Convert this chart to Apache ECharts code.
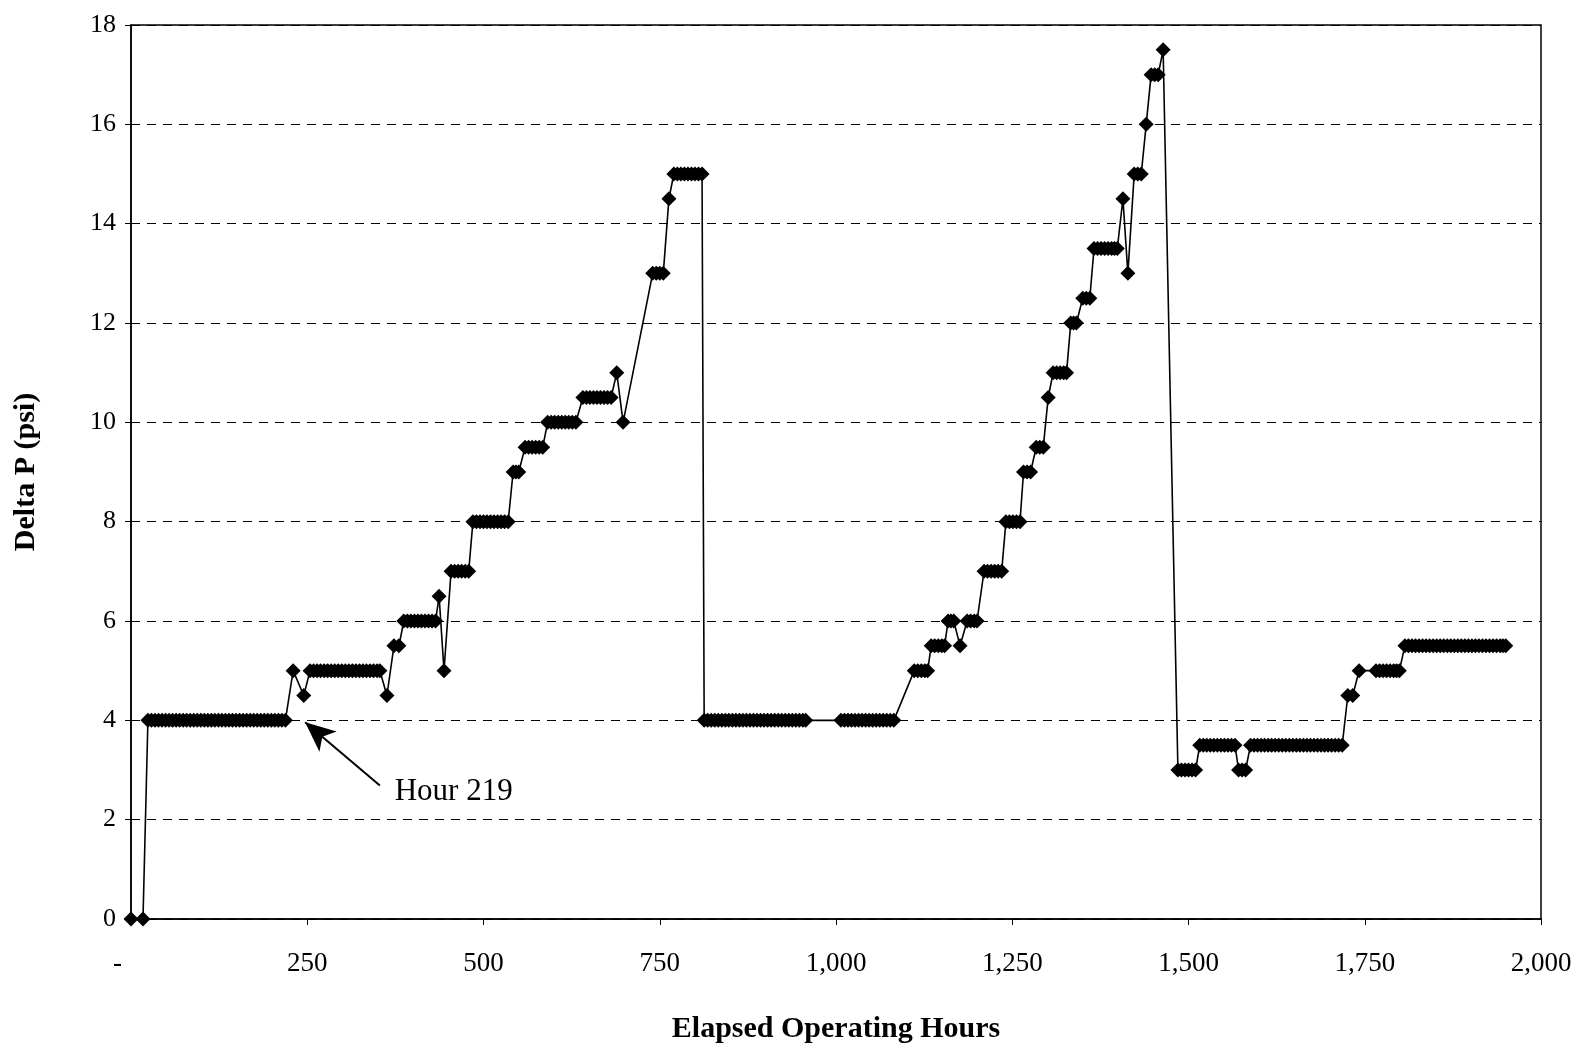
<!DOCTYPE html>
<html>
<head>
<meta charset="utf-8">
<script src="https://cdn.jsdelivr.net/npm/echarts@6/dist/echarts.min.js"></script>
<style>
  html, body { margin: 0; padding: 0; background: #fff; }
  #chart { width: 1578px; height: 1049px; }
</style>
</head>
<body>
<div id="chart"></div>
<script>
// Differential pressure readings: [elapsed operating hours, delta P (psi)]
const readings = [
  [0, 0], [17, 0],
  [24, 4], [29, 4], [34, 4], [39, 4], [44, 4], [49, 4], [54, 4], [59, 4], [64, 4], [69, 4],
  [74, 4], [79, 4], [84, 4], [89, 4], [94, 4], [99, 4], [104, 4], [109, 4], [114, 4], [119, 4],
  [124, 4], [129, 4], [134, 4], [139, 4], [144, 4], [149, 4], [154, 4], [159, 4], [164, 4], [169, 4],
  [174, 4], [179, 4], [184, 4], [189, 4], [194, 4], [199, 4], [204, 4], [209, 4], [214, 4], [219, 4],
  [230, 5], [245, 4.5],
  [254, 5], [259, 5], [264, 5], [269, 5], [274, 5], [279, 5], [284, 5], [289, 5], [294, 5], [299, 5],
  [304, 5], [309, 5], [314, 5], [319, 5], [324, 5], [329, 5], [334, 5], [339, 5], [344, 5], [349, 5], [353, 5],
  [363, 4.5], [373, 5.5], [380, 5.5],
  [387, 6], [392, 6], [397, 6], [402, 6], [407, 6], [412, 6], [417, 6], [422, 6], [427, 6], [432, 6],
  [437, 6.5], [444, 5],
  [454, 7], [459, 7], [464, 7], [469, 7], [474, 7], [479, 7],
  [485, 8], [490, 8], [495, 8], [500, 8], [505, 8], [510, 8], [515, 8], [520, 8], [525, 8], [530, 8], [535, 8],
  [542, 9], [546, 9], [550, 9],
  [559, 9.5], [564, 9.5], [569, 9.5], [574, 9.5], [579, 9.5], [584, 9.5],
  [591, 10], [596, 10], [601, 10], [606, 10], [611, 10], [616, 10], [621, 10], [626, 10], [631, 10],
  [641, 10.5], [646, 10.5], [651, 10.5], [656, 10.5], [661, 10.5], [666, 10.5], [671, 10.5], [676, 10.5], [681, 10.5],
  [689, 11], [698, 10],
  [740, 13], [745, 13], [750, 13], [755, 13],
  [763, 14.5],
  [770, 15], [775, 15], [780, 15], [785, 15], [790, 15], [795, 15], [800, 15], [805, 15], [810, 15],
  [813, 4], [818, 4], [823, 4], [828, 4], [833, 4], [838, 4], [843, 4], [848, 4], [853, 4], [858, 4],
  [863, 4], [868, 4], [873, 4], [878, 4], [883, 4], [888, 4], [893, 4], [898, 4], [903, 4], [908, 4],
  [913, 4], [918, 4], [923, 4], [928, 4], [933, 4], [938, 4], [943, 4], [948, 4], [953, 4], [957, 4],
  [1007, 4], [1012, 4], [1017, 4], [1022, 4], [1027, 4], [1032, 4], [1037, 4], [1042, 4],
  [1047, 4], [1052, 4], [1057, 4], [1062, 4], [1067, 4], [1072, 4], [1077, 4], [1082, 4],
  [1111, 5], [1116, 5], [1121, 5], [1126, 5], [1130, 5],
  [1135, 5.5], [1140, 5.5], [1145, 5.5], [1150, 5.5], [1154, 5.5],
  [1159, 6], [1163, 6], [1167, 6],
  [1176, 5.5],
  [1186, 6], [1191, 6], [1196, 6], [1200, 6],
  [1210, 7], [1215, 7], [1220, 7], [1225, 7], [1230, 7], [1235, 7],
  [1241, 8], [1246, 8], [1251, 8], [1256, 8], [1261, 8],
  [1266, 9], [1271, 9], [1276, 9],
  [1284, 9.5], [1289, 9.5], [1294, 9.5],
  [1301, 10.5],
  [1308, 11], [1313, 11], [1318, 11], [1323, 11], [1327, 11],
  [1333, 12], [1337, 12], [1341, 12],
  [1350, 12.5], [1355, 12.5], [1360, 12.5],
  [1366, 13.5], [1371, 13.5], [1376, 13.5], [1381, 13.5], [1386, 13.5], [1391, 13.5], [1395, 13.5], [1399, 13.5],
  [1407, 14.5], [1414, 13],
  [1423, 15], [1428, 15], [1433, 15],
  [1440, 16],
  [1447, 17], [1452, 17], [1457, 17],
  [1464, 17.5],
  [1485, 3], [1490, 3], [1495, 3], [1500, 3], [1505, 3], [1510, 3],
  [1516, 3.5], [1521, 3.5], [1526, 3.5], [1531, 3.5], [1536, 3.5], [1541, 3.5], [1546, 3.5],
  [1551, 3.5], [1556, 3.5], [1561, 3.5], [1566, 3.5],
  [1571, 3], [1576, 3], [1581, 3],
  [1588, 3.5], [1593, 3.5], [1598, 3.5], [1603, 3.5], [1608, 3.5], [1613, 3.5], [1618, 3.5],
  [1623, 3.5], [1628, 3.5], [1633, 3.5], [1638, 3.5], [1643, 3.5], [1648, 3.5], [1653, 3.5],
  [1658, 3.5], [1663, 3.5], [1668, 3.5], [1673, 3.5], [1678, 3.5], [1683, 3.5], [1688, 3.5],
  [1693, 3.5], [1698, 3.5], [1703, 3.5], [1708, 3.5], [1713, 3.5], [1718, 3.5],
  [1726, 4.5], [1733, 4.5],
  [1742, 5],
  [1766, 5], [1771, 5], [1776, 5], [1781, 5], [1786, 5], [1791, 5], [1795, 5], [1799, 5],
  [1807, 5.5], [1812, 5.5], [1817, 5.5], [1822, 5.5], [1827, 5.5], [1832, 5.5], [1837, 5.5],
  [1842, 5.5], [1847, 5.5], [1852, 5.5], [1857, 5.5], [1862, 5.5], [1867, 5.5], [1872, 5.5],
  [1877, 5.5], [1882, 5.5], [1887, 5.5], [1892, 5.5], [1897, 5.5], [1902, 5.5], [1907, 5.5],
  [1912, 5.5], [1917, 5.5], [1922, 5.5], [1927, 5.5], [1932, 5.5], [1937, 5.5], [1942, 5.5],
  [1946, 5.5], [1950, 5.5]
];

// Axis ranges and labels
const xRange = [0, 2000];
const xStep = 250;
const yRange = [0, 18];
const yStep = 2;
const xTitle = 'Elapsed Operating Hours';
const yTitle = 'Delta P (psi)';

// Callout pointing at the start of the first pressure rise
const calloutText = 'Hour 219';
const calloutTail = [353, 2.69];
const calloutHead = [247, 3.96];
const calloutLabelAt = [374, 2.56];

const serif = '"Liberation Serif", "Times New Roman", serif';

function fmtHours(v) {
  if (v === 0) return '-    ';
  return v.toLocaleString('en-US');
}

const chart = echarts.init(document.getElementById('chart'), null, { renderer: 'canvas' });

chart.setOption({
  backgroundColor: '#ffffff',
  animation: false,
  grid: {
    left: 131, right: 37, top: 25, bottom: 128,
    show: true, borderColor: '#000', borderWidth: 1.5, backgroundColor: '#fff'
  },
  xAxis: {
    type: 'value',
    min: xRange[0], max: xRange[1], interval: xStep,
    name: xTitle,
    nameLocation: 'middle',
    nameGap: 95,
    nameTextStyle: { fontFamily: serif, fontWeight: 'bold', fontSize: 30, color: '#000' },
    axisLine: { show: true, lineStyle: { color: '#000', width: 1.5 } },
    axisTick: { show: true, length: 6, lineStyle: { color: '#000' } },
    axisLabel: { formatter: fmtHours, fontFamily: serif, fontSize: 27, color: '#000', margin: 31 },
    splitLine: { show: false }
  },
  yAxis: {
    type: 'value',
    min: yRange[0], max: yRange[1], interval: yStep,
    name: yTitle,
    nameLocation: 'middle',
    nameGap: 90,
    nameRotate: 90,
    nameTextStyle: { fontFamily: serif, fontWeight: 'bold', fontSize: 30, color: '#000' },
    axisLine: { show: true, lineStyle: { color: '#000', width: 1.5 } },
    axisTick: { show: true, length: 6, lineStyle: { color: '#000' } },
    axisLabel: { fontFamily: serif, fontSize: 26, color: '#000', margin: 15 },
    splitLine: { show: true, lineStyle: { color: '#000', width: 1, type: [9, 7] } }
  },
  series: [{
    type: 'line',
    data: readings,
    symbol: 'diamond',
    symbolSize: 15,
    showAllSymbol: true,
    itemStyle: { color: '#000' },
    lineStyle: { color: '#000', width: 1.6 },
    z: 3,
    markLine: {
      silent: true,
      symbol: ['none', 'arrow'],
      symbolSize: [20, 30],
      lineStyle: { color: '#000', width: 2, type: 'solid' },
      label: { show: false },
      data: [[{ coord: calloutTail }, { coord: calloutHead }]]
    },
    markPoint: {
      silent: true,
      symbol: 'circle',
      symbolSize: 0,
      label: {
        show: true, position: 'right', distance: 0,
        formatter: calloutText,
        fontFamily: serif, fontSize: 31, color: '#000'
      },
      data: [{ coord: calloutLabelAt }]
    }
  }]
});
</script>
</body>
</html>
